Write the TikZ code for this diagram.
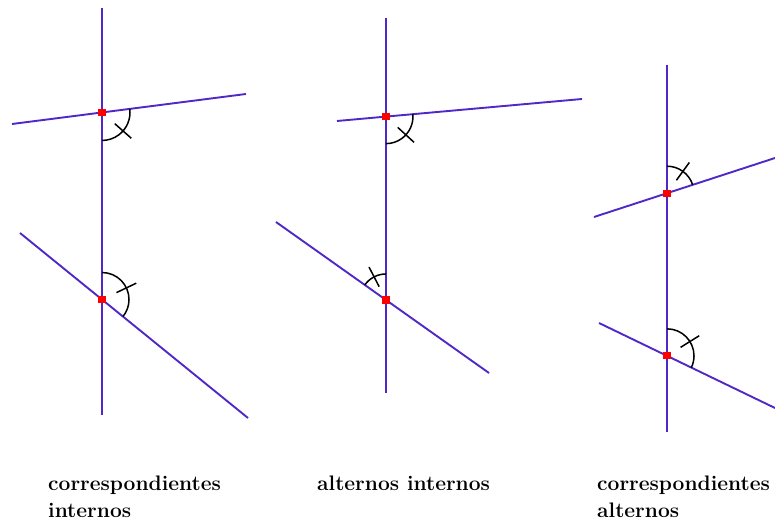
\documentclass[tikz,border=0pt]{standalone}
\usepackage{xcolor}
\usepackage{tikz}
\definecolor{rectaazul}{HTML}{5028C8}
\definecolor{puntorojo}{HTML}{FF0000}

\begin{document}
\begin{tikzpicture}[x=1pt, y=1pt, line cap=butt,
    recta/.style={draw=rectaazul, line width=1.9pt},
    marca/.style={draw=black, line width=1.5pt},
    rotulo/.style={anchor=north west, align=left, inner sep=0pt,
                   font=\fontsize{21}{27}\selectfont\bfseries}]

  \useasboundingbox (0,0) rectangle (775,527);

  % ---- end points of the three vertical secants and the six cut lines ------
  \foreach \n/\x/\ya/\yb in {1/102/519/112, 2/386/509/134, 3/667/462/95}{
    \coordinate (v\n a) at (\x,\ya);
    \coordinate (v\n b) at (\x,\yb);}
  \foreach \n/\xa/\ya/\xb/\yb in {1a/12/403/246/433, 1b/20/294/248/109,
                                  2a/337/406/582/428, 2b/276/305/489/154,
                                  3a/594/310/775/369, 3b/599/204/775/119}{
    \coordinate (c\n 1) at (\xa,\ya);
    \coordinate (c\n 2) at (\xb,\yb);}

  % ---- the cut points --------------------------------------------------------
  \foreach \n in {1,2,3}{
    \coordinate (p\n a) at (intersection of v\n a--v\n b and c\n a1--c\n a2);
    \coordinate (p\n b) at (intersection of v\n a--v\n b and c\n b1--c\n b2);}

  % ---- lines -----------------------------------------------------------------
  \foreach \n in {1,2,3}{
    \draw[recta] (v\n a) -- (v\n b);
    \draw[recta] (c\n a1) -- (c\n a2);
    \draw[recta] (c\n b1) -- (c\n b2);}

  % ---- angle marks: an arc and a crossing tick -------------------------------
  \foreach \p/\a/\b/\r in {p1a/7.3/-90/28, p1b/90/-39/27,
                           p2a/5.1/-90/27, p2b/90/144.7/26,
                           p3a/90/18/27,   p3b/90/-26/27}{
    \draw[marca] (\p) ++(\a:\r) arc (\a:\b:\r);
    \draw[marca] (\p) ++({(\a+\b)/2}:{\r-11}) -- ++({(\a+\b)/2}:22);}

  % ---- red dots on the cut points --------------------------------------------
  \foreach \p in {p1a,p1b,p2a,p2b,p3a,p3b}{
    \fill[puntorojo] (\p) ++(-3.6,-3.6) rectangle ++(7.2,7.2);}

  % ---- captions --------------------------------------------------------------
  \node[rotulo] (t1) at (48,51)  {correspondientes\\internos};
  \node[rotulo] (t2) at (317,51) {alternos internos};
  \node[rotulo] (t3) at (597,51) {correspondientes\\alternos};
\end{tikzpicture}
\end{document}
